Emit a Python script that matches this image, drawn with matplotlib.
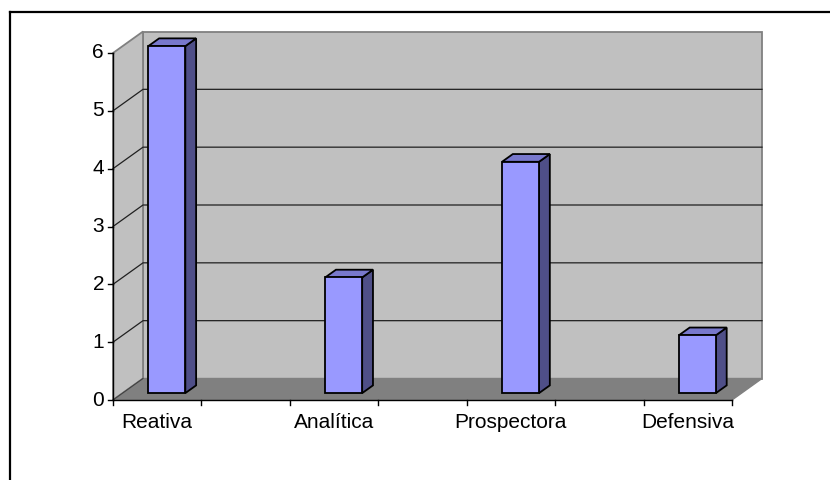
import matplotlib
matplotlib.use('Agg')
from matplotlib import pyplot as plt
from matplotlib.patches import Polygon
from matplotlib.lines import Line2D

# data (empty slots between the named categories, as in the original sheet)
categories = ['Reativa', '', 'Analítica', '', 'Prospectora', '', 'Defensiva']
values = [6, None, 2, None, 4, None, 1]
yticks = [0, 1, 2, 3, 4, 5, 6]

plt.rcParams['font.family'] = ['Liberation Sans', 'DejaVu Sans']

W, H = 830, 480
fig = plt.figure(figsize=(W / 100, H / 100), dpi=100)
ax = fig.add_axes([0, 0, 1, 1])
ax.set_axis_off()

# pixel geometry of the plot
x0, y0 = 113, 400          # front origin (px, from top)
pxu = (732 - 113) / 7      # px per category
pxv = (400 - 53) / 6       # px per value unit
ax.set_xlim(-x0 / pxu, (W - x0) / pxu)
ax.set_ylim((y0 - H) / pxv, y0 / pxv)

DU = 30 / pxu
DV = 21.5 / pxv
ncat = len(categories)
vmax = yticks[-1]


def P(u, v, d):
    return (u + DU * d, v + DV * d)


def poly(pts, fc, ec, lw, z):
    ax.add_patch(Polygon(pts, closed=True, facecolor=fc, edgecolor=ec,
                         linewidth=lw, zorder=z, joinstyle='miter'))


wall = '#C0C0C0'
edge = '#808080'
# back wall, left wall, floor
poly([P(0, 0, 1), P(ncat, 0, 1), P(ncat, vmax, 1), P(0, vmax, 1)], wall, edge, 1.3, 1)
poly([P(0, 0, 0), P(0, vmax, 0), P(0, vmax, 1), P(0, 0, 1)], wall, edge, 1.3, 1)
poly([P(0, 0, 0), P(ncat, 0, 0), P(ncat, 0, 1), P(0, 0, 1)], '#808080', edge, 1.0, 2)

# gridlines
for v in yticks[1:-1]:
    xs, ys = zip(P(0, v, 0), P(0, v, 1), P(ncat, v, 1))
    ax.plot(xs, ys, color='#202020', lw=0.9, zorder=3)
xs, ys = zip(P(0, 0, 0), P(0, 0, 1))
ax.plot(xs, ys, color='#404040', lw=0.8, zorder=3)

# bars
bw = 37 / pxu
d0, d1 = 0.32, 0.68
for i, val in enumerate(values):
    if not val:
        continue
    c = i + 0.5
    l, r = c - bw / 2, c + bw / 2
    poly([P(r, 0, d0), P(r, val, d0), P(r, val, d1), P(r, 0, d1)], '#4F4F88', 'black', 1.3, 5)
    poly([P(l, val, d0), P(r, val, d0), P(r, val, d1), P(l, val, d1)], '#7878CC', 'black', 1.3, 5)
    poly([P(l, 0, d0), P(r, 0, d0), P(r, val, d0), P(l, val, d0)], '#9999FF', 'black', 1.3, 6)

# front axes
ax.plot([0, 0], [0, vmax], color='black', lw=1.0, zorder=7)
ax.plot([0, ncat], [0, 0], color='black', lw=1.0, zorder=7)
tk = 5 / pxu
for v in yticks:
    ax.plot([-tk, 0], [v, v], color='black', lw=1.0, zorder=7)
    ax.text(-9 / pxu, v, str(v), ha='right', va='center', fontsize=15, zorder=8)
tv = 5 / pxv
for i in range(ncat + 1):
    ax.plot([i, i], [0, -tv], color='black', lw=1.0, zorder=7)
for i, name in enumerate(categories):
    if name:
        ax.text(i + 0.5, -13 / pxv, name, ha='center', va='top', fontsize=15, zorder=8)

# outer chart border (right and bottom edges fall outside the image)
fig.add_artist(Line2D([10 / W, 1.0], [1 - 12 / H, 1 - 12 / H], color='black', lw=1.6,
                      transform=fig.transFigure))
fig.add_artist(Line2D([10 / W, 10 / W], [0, 1 - 12 / H], color='black', lw=1.6,
                      transform=fig.transFigure))

fig.savefig('out.png', dpi=100)
